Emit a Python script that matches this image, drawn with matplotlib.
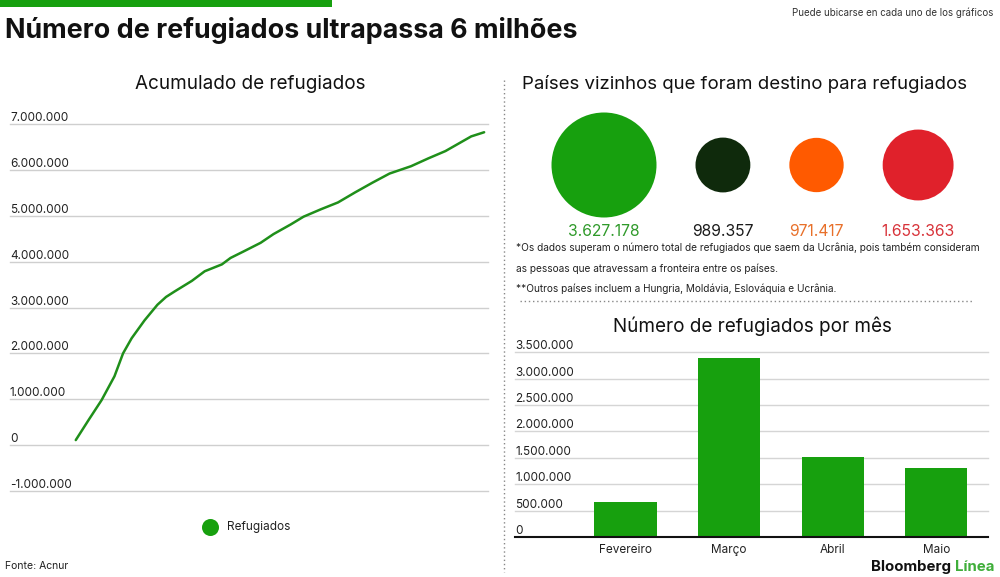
import matplotlib
matplotlib.use("Agg")
import matplotlib.pyplot as plt
import matplotlib.transforms as mtransforms
import numpy as np

# ---------------- data ----------------
# cumulative refugees (days since 24 Feb 2022, millions)
cum_days = [0, 3, 6, 9, 11, 13, 16, 19, 21, 23, 27, 30, 34, 36, 39, 43, 46, 50,
            53, 57, 61, 65, 69, 73, 78, 82, 86, 89, 92, 95]
cum_values = [0.11, 0.55, 0.98, 1.50, 2.00, 2.33, 2.72, 3.06, 3.23, 3.35, 3.58,
              3.79, 3.94, 4.08, 4.22, 4.41, 4.60, 4.81, 4.98, 5.14, 5.29, 5.51,
              5.72, 5.92, 6.08, 6.25, 6.41, 6.57, 6.73, 6.82]
cum_ticks = [7000000, 6000000, 5000000, 4000000, 3000000, 2000000, 1000000, 0, -1000000]
cum_tick_labels = ["7.000.000", "6.000.000", "5.000.000", "4.000.000", "3.000.000",
                   "2.000.000", "1.000.000", "0", "-1.000.000"]

circle_values = [3627178, 989357, 971417, 1653363]
circle_labels = ["3.627.178", "989.357", "971.417", "1.653.363"]
circle_colors = ["#17a00e", "#0f2a0c", "#ff5a00", "#e0212b"]
label_colors = ["#2f9a2a", "#1a1a1a", "#e8702a", "#d8333a"]

months = ["Fevereiro", "Março", "Abril", "Maio"]
month_values = [668000, 3390000, 1510000, 1300000]
bar_ticks = [3500000, 3000000, 2500000, 2000000, 1500000, 1000000, 500000, 0]
bar_tick_labels = ["3.500.000", "3.000.000", "2.500.000", "2.000.000", "1.500.000",
                   "1.000.000", "500.000", "0"]

GREEN = "#17a00e"
LINE_GREEN = "#1f8f1a"
FONT = "Inter"
plt.rcParams['font.family'] = [FONT, 'DejaVu Sans']

W, H = 1000, 577
fig = plt.figure(figsize=(W / 100, H / 100), dpi=100)
fig.patch.set_facecolor("white")


def rect(x0, y0, x1, y1):
    return [x0 / W, 1 - y1 / H, (x1 - x0) / W, (y1 - y0) / H]


def ftext(x, y, s, **kw):
    fig.text(x / W, 1 - y / H, s, **kw)


# background overlay axes in pixel coords
bg = fig.add_axes([0, 0, 1, 1])
bg.set_xlim(0, W)
bg.set_ylim(H, 0)
bg.axis("off")
bg.add_patch(plt.Rectangle((0, 0), 332, 7, color=GREEN, lw=0))
bg.plot([504, 504], [80, 572], color="#888888", lw=1, ls=(0, (1, 2)))
bg.plot([520, 972], [301, 301], color="#888888", lw=1, ls=(0, (1, 2)))

# titles
ftext(5, 30, "Número de refugiados ultrapassa 6 milhões", fontsize=19.4,
      fontweight="bold", va="center", ha="left", color="#111111")
ftext(993, 13, "Puede ubicarse en cada uno de los gráficos", fontsize=7,
      va="center", ha="right", color="#333333")
ftext(250, 84, "Acumulado de refugiados", fontsize=13.6, va="center", ha="center",
      color="#111111")
ftext(745, 84, "Países vizinhos que foram destino para refugiados", fontsize=13.4,
      va="center", ha="center", color="#111111")
ftext(752, 326, "Número de refugiados por mês", fontsize=13.6, va="center",
      ha="center", color="#111111")

# ---------------- cumulative line ----------------
ax = fig.add_axes(rect(10, 124, 488, 491))
ax.set_ylim(-1000000, 7000000)
ax.set_xlim(-15.3, 95.9)
ax.axis("off")
for t, lab in zip(cum_ticks, cum_tick_labels):
    ax.axhline(t, color="#cfcfcf", lw=1, zorder=1, clip_on=False)
    ax.text(0, t, lab, transform=mtransforms.blended_transform_factory(ax.transAxes, ax.transData),
            ha="left", va="bottom", fontsize=8.5, color="#222222")
ax.plot(cum_days, np.array(cum_values) * 1e6, color=LINE_GREEN, lw=1.8, zorder=3,
        solid_capstyle="round")

# legend
bg.scatter([210], [527], s=150, color=GREEN, lw=0)
ftext(227, 527, "Refugiados", fontsize=8.5, va="center", ha="left", color="#222222")
ftext(5, 566, "Fonte: Acnur", fontsize=7.5, va="center", ha="left", color="#222222")

# ---------------- circles ----------------
k = 52.5 / np.sqrt(circle_values[0])
radii = [k * np.sqrt(v) for v in circle_values]
gap = 39
x = 551.5
cy = 165
for v, r, c, lab, lc in zip(circle_values, radii, circle_colors, circle_labels, label_colors):
    cx = x + r
    bg.add_patch(plt.Circle((cx, cy), r, color=c, lw=0))
    bg.text(cx, 231, lab, fontsize=11.3, ha="center", va="center", color=lc)
    x = cx + r + gap

notes = ["*Os dados superam o número total de refugiados que saem da Ucrânia, pois também consideram",
         "as pessoas que atravessam a fronteira entre os países.",
         "**Outros países incluem a Hungria, Moldávia, Eslováquia e Ucrânia."]
for ny, n in zip([248, 269, 289], notes):
    ftext(516, ny, n, fontsize=7.25, va="center", ha="left", color="#222222")

# ---------------- bars ----------------
bx = fig.add_axes(rect(515, 352.3, 988, 537))
bx.set_ylim(0, 3500000)
bx.set_xlim(-1.066, 3.5)
for s in ["top", "right", "left"]:
    bx.spines[s].set_visible(False)
bx.spines["bottom"].set_color("#111111")
bx.spines["bottom"].set_linewidth(1.5)
bx.set_yticks([])
for t, lab in zip(bar_ticks, bar_tick_labels):
    if t > 0:
        bx.axhline(t, color="#d5d5d5", lw=1, zorder=1, clip_on=False)
    bx.text(0, t, lab, transform=mtransforms.blended_transform_factory(bx.transAxes, bx.transData),
            ha="left", va="bottom", fontsize=8.5, color="#222222")
bx.bar(range(len(months)), month_values, width=0.6, color=GREEN, zorder=2)
bx.set_xticks(range(len(months)))
bx.set_xticklabels(months, fontsize=8.5, color="#222222")
bx.tick_params(axis="x", length=0, pad=5)

# brand
t1 = fig.text(0.995, 1 - 567 / H, "Línea", fontsize=10.8, fontweight="bold",
              color="#3fae3a", ha="right", va="center")
fig.canvas.draw()
bb = t1.get_window_extent()
fig.text(bb.x0 / W - 0.004, 1 - 567 / H, "Bloomberg", fontsize=10.8, fontweight="bold",
         color="#111111", ha="right", va="center")

fig.savefig("out.png", dpi=100, facecolor="white")
